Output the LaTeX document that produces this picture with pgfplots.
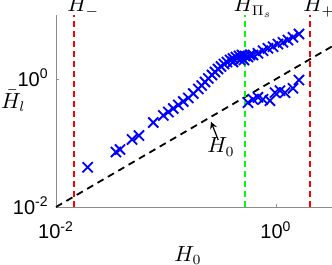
\documentclass[border=0pt]{standalone}
\usepackage[no-math]{fontspec}
\setmainfont{Liberation Sans}
\usepackage{pgfplots}
\pgfplotsset{compat=1.18}
\begin{document}
\begin{tikzpicture}
\begin{axis}[
  name=ax,
  scale only axis, width=138pt, height=96pt,
  xmode=log, ymode=log,
  xmin=0.01, xmax=3.23, ymin=0.01, ymax=10,
  axis x line*=bottom, axis y line*=left,
  axis line style={black!45, line width=0.4pt, -},
  xtick={0.01,1}, ytick={0.01,1},
  xticklabels={10\textsuperscript{-2},10\textsuperscript{0}},
  yticklabels={10\textsuperscript{-2},10\textsuperscript{0}},
  xminorticks=false, yminorticks=false,
  tick align=inside, major tick length=1.5pt,
  tick style={black!45, line width=0.4pt},
  xticklabel style={font=\fontsize{10}{12}\selectfont, anchor=base, inner sep=0pt, yshift=-16pt},
  yticklabel style={font=\fontsize{10}{12}\selectfont, anchor=base east, inner sep=0pt, xshift=-3.5pt, yshift=-3.6pt},
  xlabel={$H_0$}, ylabel={$\bar{H}_l$},
  label style={font=\fontsize{10.5}{12}\selectfont},
  xlabel style={at={(rel axis cs:0.478,0)}, anchor=base, inner sep=0pt, yshift=-27.3pt},
  ylabel style={at={(rel axis cs:-0.2,0.515)}, rotate=-90, anchor=base west, inner sep=0pt},
  clip=false,
]
% reference line H = H0
\addplot[black, line width=0.9pt, dash pattern=on 3.5pt off 2.5pt] coordinates {(0.01,0.01) (3.23,3.23)};
% vertical lines
\addplot[red, line width=1pt, dash pattern=on 3pt off 2pt] coordinates {(0.0146,0.01) (0.0146,10)};
\addplot[green, line width=1pt, dash pattern=on 3pt off 2pt] coordinates {(0.526,0.01) (0.526,10)};
\addplot[red, line width=1pt, dash pattern=on 3pt off 2pt] coordinates {(2.04,0.01) (2.04,10)};
% upper branch
\addplot[only marks, mark=x, mark size=3.6pt, blue, mark options={line width=0.9pt}] coordinates {
(0.0194,0.0417) (0.0351,0.0723) (0.0382,0.0791) (0.0491,0.1135) (0.0568,0.1309)
(0.0766,0.2089) (0.0945,0.2692) (0.1050,0.3048) (0.1164,0.3459) (0.1294,0.3926)
(0.1435,0.4449) (0.1595,0.5047) (0.1770,0.5929) (0.1967,0.6982) (0.2111,0.7907)
(0.2262,0.8974) (0.2424,1.018) (0.2618,1.155) (0.2789,1.286) (0.2970,1.432)
(0.3162,1.567) (0.3365,1.714) (0.3584,1.843) (0.3820,1.982) (0.4064,2.091)
(0.4064,1.843) (0.4325,2.207) (0.4612,2.287) (0.4710,1.982) (0.4909,2.371)
(0.5117,1.982) (0.5224,2.287) (0.5565,2.207) (0.5803,2.371)
(0.6180,2.371) (0.6855,2.521) (0.7621,2.767) (0.8453,3.017) (0.9397,3.197)
(1.042,3.522) (1.158,3.743) (1.285,4.064) (1.427,4.482) (1.618,5.047)
};
% lower branch
\addplot[only marks, mark=x, mark size=3.6pt, blue, mark options={line width=0.9pt}] coordinates {
(0.5565,0.4266) (0.618,0.4819) (0.6855,0.5176) (0.7621,0.4819) (0.8810,0.4581)
(0.9795,0.6107) (1.087,0.6566) (1.208,0.6107) (1.427,0.7161) (1.618,0.9638)
};
% annotations
\node[anchor=base west, inner sep=0pt, xshift=-3.5pt, yshift=1.5pt, font=\fontsize{10.5}{12}\selectfont] at (axis cs:0.0146,10) {$H_-$};
\node[anchor=base west, inner sep=0pt, xshift=-6pt, yshift=1.5pt, font=\fontsize{10.5}{12}\selectfont] at (axis cs:0.526,10) {$H_{\Pi_s}$};
\node[anchor=base west, inner sep=0pt, xshift=-3.5pt, yshift=1.5pt, font=\fontsize{10.5}{12}\selectfont] at (axis cs:2.04,10) {$H_+$};
\draw[-stealth, black, line width=0.6pt] (axis cs:0.2985,0.1114) -- (axis cs:0.2564,0.2153);
\node[anchor=base, inner sep=0pt, font=\fontsize{10.5}{12}\selectfont] at (axis cs:0.316,0.0698) {$H_0$};
\end{axis}
\pgfresetboundingbox
\path ([shift={(-28pt,-29pt)}]ax.south west) rectangle ([shift={(0pt,7.5pt)}]ax.north east);
\end{tikzpicture}
\end{document}
